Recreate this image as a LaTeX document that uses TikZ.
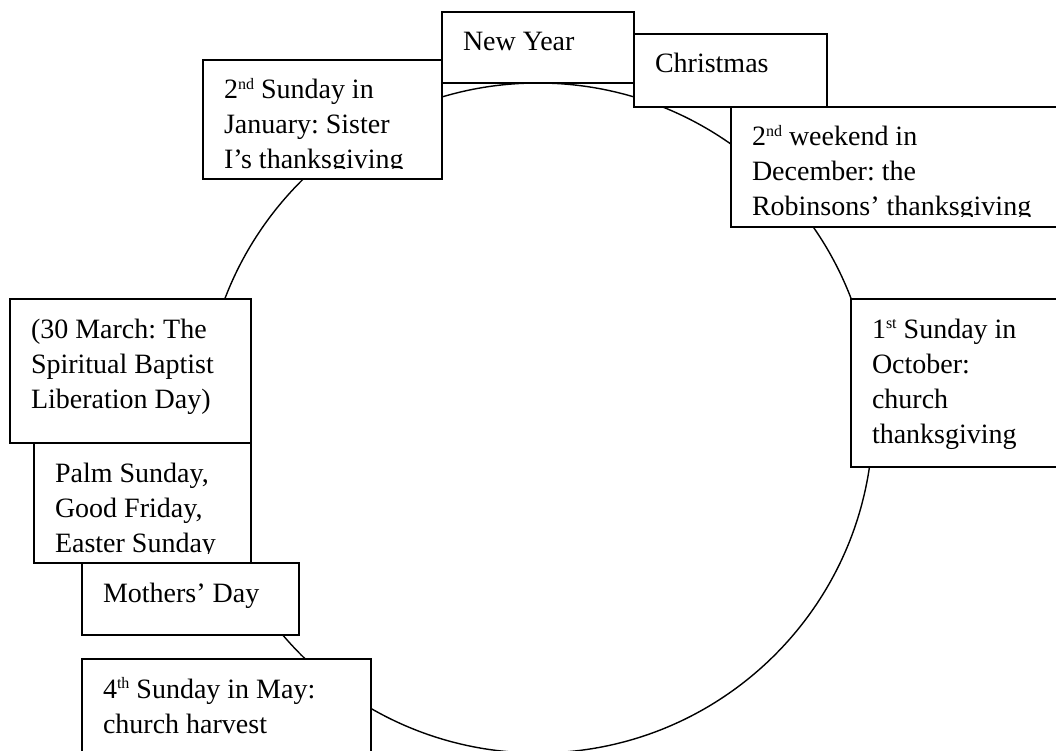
\documentclass[tikz,border=0pt]{standalone}
\usepackage{fontspec}
\setmainfont{Liberation Serif}
\frenchspacing
\newcommand{\evsup}[1]{\raisebox{0.75ex}{\fontsize{16}{16}\selectfont #1}}
\tikzset{
  evframe/.style={draw=black, fill=white, line width=1.6pt, rectangle, inner sep=0pt, outer sep=0pt},
  evtext/.style={inner sep=0pt, outer sep=0pt, font=\fontsize{28}{35}\selectfont},
  cyclering/.style={draw=black, line width=1.4pt, circle, inner sep=0pt, outer sep=0pt}
}
\newcommand{\evbox}[6]{%
  \node[evframe, minimum width={(#4-#2)*1pt}, minimum height={(#5-#3)*1pt}, anchor=north west] (#1box) at (#2,#3) {};
  \begin{scope}
    \clip (#2,#3) rectangle (#4,#5-10);
    \node[evtext, anchor=base west] (#1) at (#2+21,#3+39) {\frenchspacing\begin{tabular}[t]{@{}l@{}}#6\end{tabular}};
  \end{scope}}
\begin{document}
\begin{tikzpicture}[x=1pt, y=-1pt]
  \useasboundingbox (0,0) rectangle (1056,751);
  \clip (0,0) rectangle (1056,751);
  \fill[white] (0,0) rectangle (1056,751);
  \node[cyclering, minimum size=670pt] (cycle) at (538,418) {};
  \evbox{newyear}{442}{12}{634}{83}{New Year}
  \evbox{christmas}{634}{34}{827}{107}{Christmas}
  \evbox{sister}{203}{60}{442}{179}{2\evsup{nd} Sunday in\\January: Sister\\I’s thanksgiving}
  \evbox{robinsons}{731}{107}{1070}{227}{2\evsup{nd} weekend in\\December: the\\Robinsons’ thanksgiving}
  \evbox{october}{851}{299}{1070}{467}{1\evsup{st} Sunday in\\October:\\church\\thanksgiving}
  \evbox{march}{10}{299}{251}{443}{(30 March: The\\Spiritual Baptist\\Liberation Day)}
  \evbox{palm}{34}{443}{251}{563}{Palm Sunday,\\Good Friday,\\Easter Sunday}
  \evbox{mothers}{82}{563}{299}{635}{Mothers’ Day}
  \evbox{harvest}{82}{659}{371}{800}{4\evsup{th} Sunday in May:\\church harvest}
\end{tikzpicture}
\end{document}
